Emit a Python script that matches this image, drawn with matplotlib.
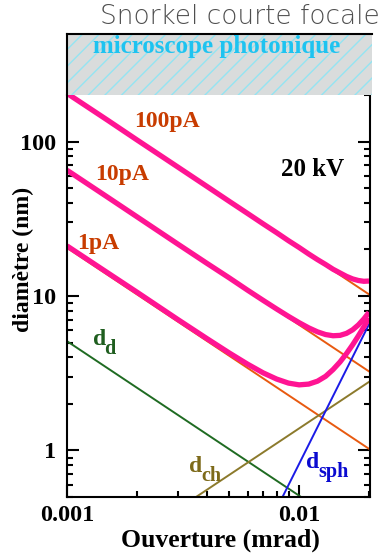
import matplotlib
matplotlib.use('Agg')
import matplotlib.pyplot as plt
from matplotlib.ticker import FixedLocator, NullFormatter, LogLocator

plt.rcParams['hatch.linewidth'] = 1.0

# aperture (x) and probe diameters
alpha = [0.001, 0.0015, 0.002, 0.003, 0.004, 0.005, 0.006, 0.007, 0.008, 0.009, 0.010,
         0.011, 0.012, 0.013, 0.014, 0.015, 0.016, 0.017, 0.018, 0.019, 0.020]
total_1pA = [21.1, 14.1, 10.6, 7.05, 5.31, 4.28, 3.62, 3.18, 2.90, 2.73, 2.66,
             2.69, 2.81, 3.02, 3.34, 3.74, 4.24, 4.83, 5.52, 6.31, 7.2]
total_10pA = [65.2, 43.5, 32.6, 21.7, 16.3, 13.1, 10.9, 9.37, 8.24, 7.38, 6.72,
              6.22, 5.86, 5.63, 5.53, 5.56, 5.73, 6.04, 6.5, 7.1, 7.84]
total_100pA = [205, 137, 102.5, 68.4, 51.3, 41.0, 34.2, 29.3, 25.7, 22.8, 20.6,
               18.7, 17.2, 16.0, 14.9, 14.1, 13.4, 12.9, 12.6, 12.45, 12.5]

# straight components (end points)
alpha_ends = [0.001, 0.02]
d0_1pA = [20.5, 1.025]
d0_10pA = [65, 3.25]
d0_100pA = [205, 10.25]
d_d = [5.1, 0.255]
d_ch = [0.139, 2.78]
d_sph = [0.00082, 6.56]

pink = '#ff1493'
orange = '#e85a10'
serif = 'Liberation Serif'

fig = plt.figure(figsize=(3.85, 5.53), dpi=100)
ax = fig.add_axes([67/385, 1-497/553, 303/385, 402/553])

ax.plot(alpha_ends, d0_1pA, color=orange, lw=1.4)
ax.plot(alpha_ends, d0_10pA, color=orange, lw=1.4)
ax.plot(alpha_ends, d0_100pA, color=orange, lw=1.4)
ax.plot(alpha_ends, d_d, color='#1f6b22', lw=1.4)
ax.plot(alpha_ends, d_ch, color='#8c7a2c', lw=1.4)
ax.plot(alpha_ends, d_sph, color='#1a1ae6', lw=1.4)
ax.plot(alpha, total_1pA, color=pink, lw=3.8, solid_capstyle='butt')
ax.plot(alpha, total_10pA, color=pink, lw=3.8, solid_capstyle='butt')
ax.plot(alpha, total_100pA, color=pink, lw=3.8, solid_capstyle='butt')

ax.set_xscale('log')
ax.set_yscale('log')
ax.set_xlim(0.001, 0.0202)
ax.set_ylim(0.5, 200)

ax.xaxis.set_major_locator(FixedLocator([0.001, 0.01]))
ax.yaxis.set_major_locator(FixedLocator([1, 10, 100]))
ax.xaxis.set_minor_locator(LogLocator(subs=range(2, 10)))
ax.yaxis.set_minor_locator(LogLocator(subs=range(2, 10)))
ax.xaxis.set_minor_formatter(NullFormatter())
ax.yaxis.set_minor_formatter(NullFormatter())
ax.set_xticklabels(['0.001', '0.01'])
ax.set_yticklabels(['1', '10', '100'])
ax.tick_params(which='both', direction='in', width=1.5, right=True, top=False)
ax.tick_params(which='major', length=8.5)
ax.tick_params(which='minor', length=4.5)
ax.tick_params(axis='y', pad=8)
ax.tick_params(axis='x', pad=6)
for lab in ax.get_xticklabels() + ax.get_yticklabels():
    lab.set_fontfamily(serif)
    lab.set_fontweight('bold')
    lab.set_fontsize(17.5)
for s in ['left', 'right', 'bottom']:
    ax.spines[s].set_linewidth(1.5)
ax.spines['top'].set_visible(False)

txt = dict(fontfamily=serif, fontweight='bold', fontsize=17)
ax.text(0.00195, 134, '100pA', color='#c83c00', va='center', **txt)
ax.text(0.00132, 61, '10pA', color='#c83c00', va='center', **txt)
ax.text(0.00111, 22, '1pA', color='#c83c00', va='center', **txt)
ax.text(0.00837, 65.5, '20 kV', color='black', va='center', fontfamily=serif,
        fontweight='bold', fontsize=18)

# component labels: letter d plus a lowered subscript
labels = [('d', 0.00129, 4.85, '#1f5e1f'),
          ('ch', 0.00336, 0.723, '#7d6a1a'),
          ('sph', 0.0107, 0.776, '#0a0ad0')]
for sub, x, y, c in labels:
    ax.text(x, y, 'd', color=c, va='baseline', fontfamily=serif, fontweight='bold', fontsize=17)
    ax.annotate(sub, (x, y), xytext=(8.6, -6.5), textcoords='offset points',
                va='baseline', color=c, fontfamily=serif, fontweight='bold', fontsize=14.5)

# hatched band on top
box = fig.add_axes([67/385, 1-95/553, 305/385, 61/553])
box.set_facecolor('#d9dcdc')
box.fill_between([0, 1], 0, 1, facecolor='#d9dcdc', hatch='//', edgecolor='#94e4f2', lw=0)
box.set_xlim(0, 1)
box.set_ylim(0, 1)
box.set_xticks([])
box.set_yticks([])
box.spines['right'].set_visible(False)
box.spines['bottom'].set_visible(False)
box.spines['left'].set_linewidth(1.5)
box.spines['top'].set_linewidth(1.5)
box.text(0.49, 0.79, 'microscope photonique', color='#1ec3f0', ha='center', va='center',
         fontfamily=serif, fontweight='bold', fontsize=18)

fig.text(0.987, 0.971, 'Snorkel courte focale', ha='right', va='center',
         color='#4f4f4f', fontsize=19, fontfamily='DejaVu Sans', fontweight='light')
fig.text(220/385, 1-540/553, 'Ouverture (mrad)', ha='center', va='center',
         fontfamily=serif, fontweight='bold', fontsize=18.5)
fig.text(23/385, 1-259/553, 'diamètre (nm)', ha='center', va='center', rotation=90, **txt)

fig.savefig('out.png', dpi=100)
